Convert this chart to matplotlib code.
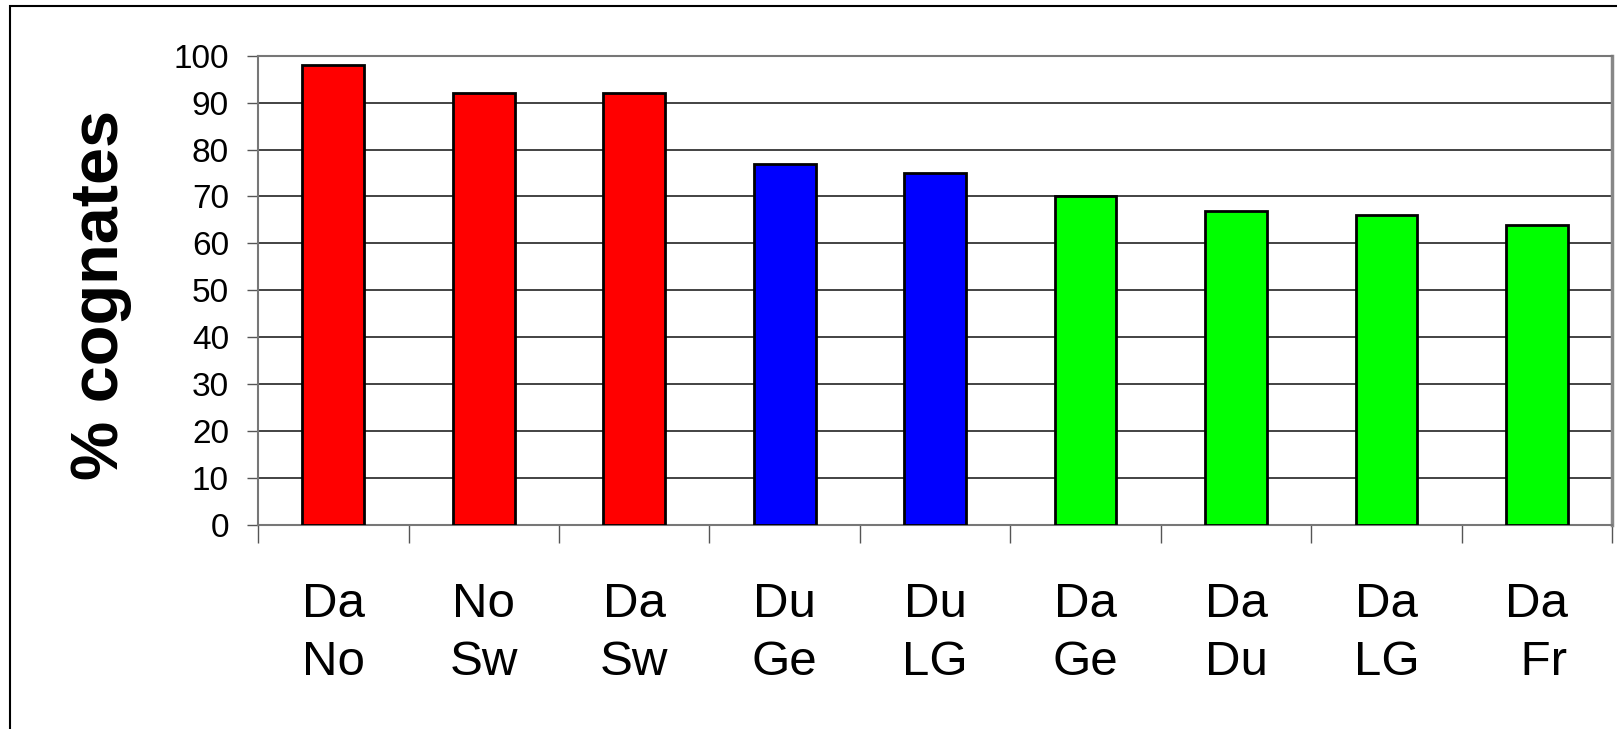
import matplotlib.pyplot as plt
from matplotlib.patches import Rectangle

# Cognate percentages per language pair
pairs = ["Da\nNo", "No\nSw", "Da\nSw", "Du\nGe", "Du\nLG", "Da\nGe", "Da\nDu", "Da\nLG", "Da\n Fr"]
cognates = [98, 92, 92, 77, 75, 70, 67, 66, 64]
colors = ["#ff0000", "#ff0000", "#ff0000", "#0000ff", "#0000ff",
          "#00ff00", "#00ff00", "#00ff00", "#00ff00"]

plt.rcParams['font.family'] = ['Liberation Sans', 'DejaVu Sans']

fig = plt.figure(figsize=(16.17, 7.29), dpi=100)
ax = fig.add_axes([0.1596, 0.2798, 0.997 - 0.1596, 0.9236 - 0.2798])

x = range(len(cognates))
ax.bar(x, cognates, width=0.41, color=colors, edgecolor="black", linewidth=2, zorder=3)

ax.set_xlim(-0.5, len(cognates) - 0.5)
ax.set_ylim(0, 100)
ax.set_yticks(range(0, 101, 10))
ax.tick_params(axis="y", labelsize=24, length=8, width=1, color="#555555", pad=13)

# category labels centred under bars, tick marks on the boundaries
ax.set_xticks(list(x))
ax.set_xticklabels(pairs, fontsize=35.5, linespacing=1.38)
ax.tick_params(axis="x", which="major", length=0, pad=41)
ax.set_xticks([i - 0.5 for i in range(len(cognates) + 1)], minor=True)
ax.tick_params(axis="x", which="minor", length=13, width=1, color="#555555")

for y in range(10, 100, 10):
    ax.axhline(y, color="#222222", linewidth=1.2, zorder=1)

for side in ["left", "top", "bottom"]:
    ax.spines[side].set_color("#777777")
    ax.spines[side].set_linewidth(1.5)
ax.spines["right"].set_color("#888888")
ax.spines["right"].set_linewidth(2.5)

ax.set_ylabel("% cognates", fontsize=48, fontweight="bold")
ax.yaxis.set_label_coords(-0.093, 0.49)

# outer frame
fig.patches.append(Rectangle((10 / 1617, -0.1), 1.2, 1 - 6 / 729 + 0.1,
                             transform=fig.transFigure, fill=False,
                             edgecolor="black", linewidth=1.5))

fig.savefig("out.png", dpi=100)
